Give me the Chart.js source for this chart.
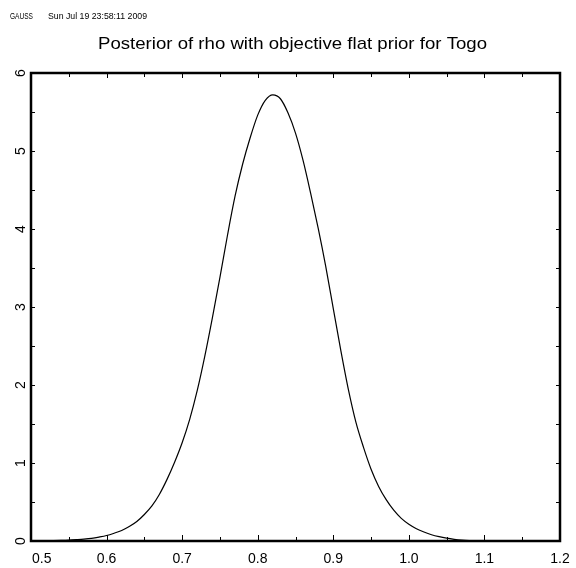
<!DOCTYPE html>
<html>
<head>
<meta charset="utf-8">
<script src="https://cdn.jsdelivr.net/npm/chart.js@4.4.0/dist/chart.umd.min.js"></script>
<style>
  body { margin: 0; background: #fff; }
  #wrap { width: 576px; height: 568px; position: relative; }
</style>
</head>
<body>
<div id="wrap"><canvas id="posterior"></canvas></div>
<script>
// Values
const rhoValues = [
    0.50, 0.51, 0.52, 0.53, 0.54, 0.55, 0.56, 0.57, 0.58, 0.59,
    0.60, 0.61, 0.62, 0.63, 0.64, 0.65, 0.66, 0.67, 0.68, 0.69,
    0.70, 0.71, 0.72, 0.73, 0.74, 0.75, 0.76, 0.77, 0.78, 0.79,
    0.80, 0.81, 0.82, 0.83, 0.84, 0.85, 0.86, 0.87, 0.88, 0.89,
    0.90, 0.91, 0.92, 0.93, 0.94, 0.95, 0.96, 0.97, 0.98, 0.99,
    1.00, 1.01, 1.02, 1.03, 1.04, 1.05, 1.06, 1.07, 1.08, 1.09,
    1.10, 1.12, 1.14, 1.16, 1.18, 1.20
];
const densityValues = [
    0.000, 0.001, 0.002, 0.004, 0.007, 0.011, 0.017, 0.024, 0.034, 0.050,
    0.070, 0.100, 0.135, 0.185, 0.250, 0.340, 0.450, 0.600, 0.790, 1.010,
    1.260, 1.560, 1.930, 2.370, 2.860, 3.380, 3.920, 4.420, 4.830, 5.170,
    5.460, 5.650, 5.720, 5.670, 5.490, 5.230, 4.880, 4.460, 4.010, 3.520,
    2.980, 2.440, 1.940, 1.520, 1.200, 0.920, 0.700, 0.530, 0.395, 0.290,
    0.215, 0.158, 0.115, 0.080, 0.055, 0.036, 0.022, 0.012, 0.006, 0.003,
    0.001, 0.000, 0.000, 0.000, 0.000, 0.000
];

const xTickValues = [0.5, 0.6, 0.7, 0.8, 0.9, 1.0, 1.1, 1.2];
const xTickLabels = ['0.5', '0.6', '0.7', '0.8', '0.9', '1.0', '1.1', '1.2'];
const xMinorTicks = [0.55, 0.65, 0.75, 0.85, 0.95, 1.05, 1.15];
const yTickValues = [0, 1, 2, 3, 4, 5, 6];
const yTickLabels = ['0', '1', '2', '3', '4', '5', '6'];
const yMinorTicks = [0.5, 1.5, 2.5, 3.5, 4.5, 5.5];

const titleText = 'Posterior of rho with objective flat prior for Togo';
const headerProg = 'GAUSS';
const headerDate = 'Sun Jul 19 23:58:11 2009';

const FONT = '"Liberation Sans", Arial, sans-serif';

// text squeezed or stretched to a given width
function fitText(ctx, text, x, y, width, size, family, align) {
    ctx.font = size + 'px ' + family;
    const w = ctx.measureText(text).width;
    const sx = width / w;
    ctx.save();
    ctx.translate(x, y);
    ctx.scale(sx, 1);
    ctx.textAlign = align || 'left';
    ctx.fillText(text, 0, 0);
    ctx.restore();
}

// Frame, inward ticks, labels and title
const gaussFrame = {
    id: 'gaussFrame',
    afterDraw(chart) {
        const ctx = chart.ctx;
        const xs = chart.scales.x;
        const ys = chart.scales.y;
        const a = chart.chartArea;
        ctx.save();
        ctx.fillStyle = '#000';
        ctx.strokeStyle = '#000';

        // ticks
        ctx.lineWidth = 1;
        ctx.beginPath();
        xTickValues.forEach(v => {
            const px = Math.round(xs.getPixelForValue(v)) + 0.5;
            ctx.moveTo(px, a.bottom); ctx.lineTo(px, a.bottom - 6);
            ctx.moveTo(px, a.top); ctx.lineTo(px, a.top + 5);
        });
        xMinorTicks.forEach(v => {
            const px = Math.round(xs.getPixelForValue(v)) + 0.5;
            ctx.moveTo(px, a.bottom); ctx.lineTo(px, a.bottom - 4);
            ctx.moveTo(px, a.top); ctx.lineTo(px, a.top + 4);
        });
        yTickValues.concat(yMinorTicks).forEach(v => {
            const py = Math.round(ys.getPixelForValue(v)) + 0.5;
            ctx.moveTo(a.left, py); ctx.lineTo(a.left + 4, py);
            ctx.moveTo(a.right, py); ctx.lineTo(a.right - 4, py);
        });
        ctx.stroke();

        // frame
        ctx.lineWidth = 2.5;
        ctx.strokeRect(a.left, a.top, a.right - a.left, a.bottom - a.top);

        // x labels
        ctx.font = '14px ' + FONT;
        ctx.textBaseline = 'alphabetic';
        xTickValues.forEach((v, i) => {
            const px = xs.getPixelForValue(v);
            ctx.textAlign = i === 0 ? 'left' : 'center';
            ctx.fillText(xTickLabels[i], i === 0 ? px + 1 : px, 563);
        });

        // y labels, rotated
        ctx.textAlign = 'center';
        ctx.textBaseline = 'middle';
        yTickValues.forEach((v, i) => {
            const py = ys.getPixelForValue(v);
            ctx.save();
            ctx.translate(21, py);
            ctx.rotate(-Math.PI / 2);
            ctx.fillText(yTickLabels[i], 0, 0);
            ctx.restore();
        });

        // title
        ctx.textBaseline = 'alphabetic';
        fitText(ctx, titleText, 292.5, 49, 389, 17, FONT, 'center');

        // header line
        fitText(ctx, headerProg, 10, 19, 23, 9, '"Liberation Sans Narrow", ' + FONT, 'left');
        fitText(ctx, headerDate, 48, 19, 99, 9, '"Liberation Sans Narrow", ' + FONT, 'left');
        ctx.restore();
    }
};

const ctx = document.getElementById('posterior').getContext('2d');
const posteriorChart = new Chart(ctx, {
    type: 'line',
    data: {
        datasets: [{
            data: rhoValues.map((r, i) => ({ x: r, y: densityValues[i] })),
            borderColor: '#000',
            borderWidth: 1.2,
            pointRadius: 0,
            fill: false,
            cubicInterpolationMode: 'monotone'
        }]
    },
    options: {
        responsive: true,
        maintainAspectRatio: false,
        animation: false,
        layout: {
            padding: { left: 31, right: 16, top: 73, bottom: 27 }
        },
        scales: {
            x: { type: 'linear', min: 0.5, max: 1.2, display: false },
            y: { type: 'linear', min: 0, max: 6, display: false }
        },
        plugins: {
            legend: { display: false },
            tooltip: { enabled: false }
        }
    },
    plugins: [gaussFrame]
});
</script>
</body>
</html>
